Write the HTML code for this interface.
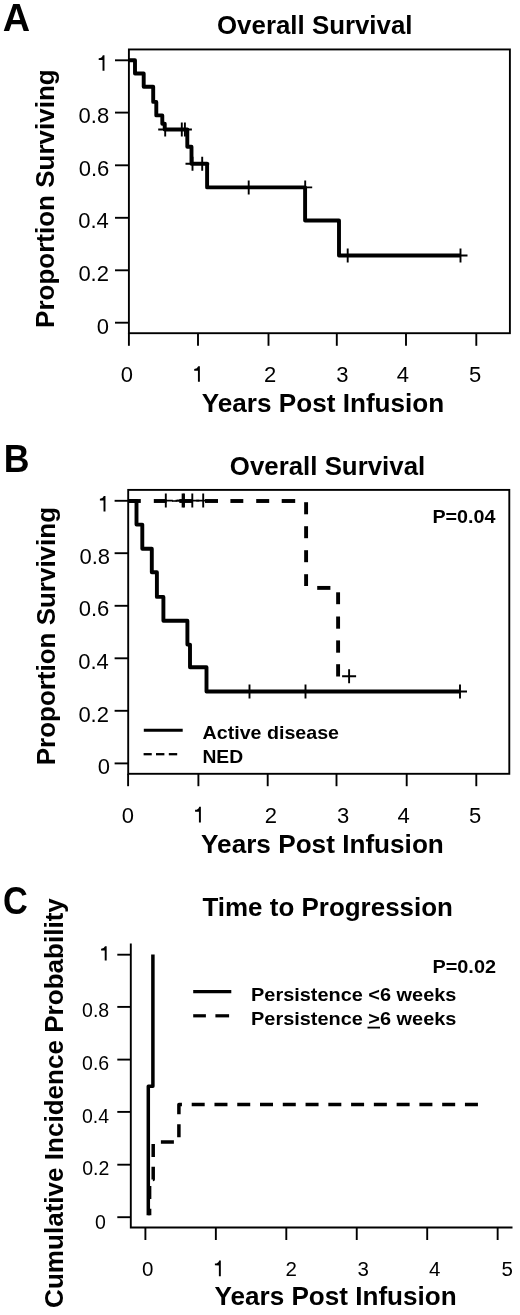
<!DOCTYPE html>
<html><head><meta charset="utf-8"><style>
html,body{margin:0;padding:0;background:#fff;}
svg{display:block;will-change:transform;}
text{font-family:"Liberation Sans",sans-serif;fill:#000;stroke:none;}
</style></head><body>
<svg width="520" height="1315" viewBox="0 0 520 1315" stroke="#000" stroke-linecap="butt" fill="none">
<text x="2.80" y="31.20" font-size="38" font-weight="bold" textLength="27.35" lengthAdjust="spacingAndGlyphs">A</text>
<text x="217.01" y="34.00" font-size="26" font-weight="bold" textLength="195.50" lengthAdjust="spacingAndGlyphs">Overall Survival</text>
<text x="201.80" y="411.60" font-size="26" font-weight="bold" textLength="242.46" lengthAdjust="spacingAndGlyphs">Years Post Infusion</text>
<text x="54.50" y="327.95" font-size="26" font-weight="bold" textLength="258.68" lengthAdjust="spacingAndGlyphs" transform="rotate(-90 54.50 327.95)">Proportion Surviving</text>
<rect x="128.9" y="49.45" width="381" height="283.75" fill="none" stroke-width="1.9"/>
<line x1="115.00" y1="60.30" x2="129.00" y2="60.30" stroke-width="1.9"/>
<path d="M104.47 55.30L104.47 70.80L102.53 70.80L102.53 60.10L98.70 60.05L98.70 58.25Q101.93 58.30 102.83 55.30Z" fill="#000" stroke="none"/>
<line x1="115.00" y1="112.60" x2="129.00" y2="112.60" stroke-width="1.9"/>
<text x="78.55" y="122.70" font-size="22">0.8</text>
<line x1="115.00" y1="165.30" x2="129.00" y2="165.30" stroke-width="1.9"/>
<text x="78.75" y="175.60" font-size="22">0.6</text>
<line x1="115.00" y1="217.80" x2="129.00" y2="217.80" stroke-width="1.9"/>
<text x="78.28" y="228.25" font-size="22">0.4</text>
<line x1="115.00" y1="270.30" x2="129.00" y2="270.30" stroke-width="1.9"/>
<text x="78.38" y="281.00" font-size="22">0.2</text>
<line x1="115.00" y1="322.70" x2="129.00" y2="322.70" stroke-width="1.9"/>
<text x="96.80" y="333.65" font-size="22">0</text>
<line x1="128.90" y1="333.00" x2="128.90" y2="345.80" stroke-width="1.9"/>
<text x="120.80" y="381.90" font-size="22">0</text>
<line x1="198.00" y1="333.00" x2="198.00" y2="345.80" stroke-width="1.9"/>
<path d="M199.88 366.30L199.88 381.70L197.93 381.70L197.93 370.80L194.20 370.75L194.20 368.95Q197.33 369.00 198.23 366.30Z" fill="#000" stroke="none"/>
<line x1="268.50" y1="333.00" x2="268.50" y2="345.80" stroke-width="1.9"/>
<text x="264.07" y="382.02" font-size="22">2</text>
<line x1="336.80" y1="333.00" x2="336.80" y2="345.80" stroke-width="1.9"/>
<text x="336.18" y="381.90" font-size="22">3</text>
<line x1="406.00" y1="333.00" x2="406.00" y2="345.80" stroke-width="1.9"/>
<text x="396.80" y="381.90" font-size="22">4</text>
<line x1="476.30" y1="333.00" x2="476.30" y2="345.80" stroke-width="1.9"/>
<text x="468.98" y="381.77" font-size="22">5</text>
<path d="M129 60.3H135V73.5H143.7V86.7H153.2V101.9H156.3V115.4H162.3V123.8H164.7V129.5H187.3V146.8H191.5V163.8H207.1V187.4H305.1V220.5H339V255.5H460.5" fill="none" stroke-width="3.9" stroke-linejoin="round"/>
<path d="M158.20 129.50H172.20M165.20 122.50V136.50" stroke-width="1.9"/>
<path d="M174.80 129.50H188.80M181.80 122.50V136.50" stroke-width="1.9"/>
<path d="M177.90 129.50H191.90M184.90 122.50V136.50" stroke-width="1.9"/>
<path d="M185.50 163.80H199.50M192.50 156.80V170.80" stroke-width="1.9"/>
<path d="M195.20 163.80H209.20M202.20 156.80V170.80" stroke-width="1.9"/>
<path d="M241.70 187.40H255.70M248.70 180.40V194.40" stroke-width="1.9"/>
<path d="M298.20 187.40H312.20M305.20 180.40V194.40" stroke-width="1.9"/>
<path d="M340.70 255.50H354.70M347.70 248.50V262.50" stroke-width="1.9"/>
<path d="M453.50 255.50H467.50M460.50 248.50V262.50" stroke-width="1.9"/>
<text x="3.86" y="471.70" font-size="38" font-weight="bold" textLength="25.74" lengthAdjust="spacingAndGlyphs">B</text>
<text x="229.81" y="474.80" font-size="26" font-weight="bold" textLength="195.40" lengthAdjust="spacingAndGlyphs">Overall Survival</text>
<text x="201.10" y="852.70" font-size="26" font-weight="bold" textLength="242.76" lengthAdjust="spacingAndGlyphs">Years Post Infusion</text>
<text x="55.20" y="765.25" font-size="26" font-weight="bold" textLength="258.27" lengthAdjust="spacingAndGlyphs" transform="rotate(-90 55.20 765.25)">Proportion Surviving</text>
<rect x="128.2" y="489.9" width="381.1" height="283.9" fill="none" stroke-width="1.9"/>
<line x1="114.60" y1="500.80" x2="128.20" y2="500.80" stroke-width="1.9"/>
<path d="M105.47 496.00L105.47 511.60L103.53 511.60L103.53 500.50L99.90 500.45L99.90 498.65Q102.93 498.70 103.83 496.00Z" fill="#000" stroke="none"/>
<line x1="114.60" y1="553.20" x2="128.20" y2="553.20" stroke-width="1.9"/>
<text x="79.50" y="563.65" font-size="22">0.8</text>
<line x1="114.60" y1="605.80" x2="128.20" y2="605.80" stroke-width="1.9"/>
<text x="78.75" y="616.30" font-size="22">0.6</text>
<line x1="114.60" y1="658.30" x2="128.20" y2="658.30" stroke-width="1.9"/>
<text x="78.28" y="668.95" font-size="22">0.4</text>
<line x1="114.60" y1="710.80" x2="128.20" y2="710.80" stroke-width="1.9"/>
<text x="78.38" y="721.70" font-size="22">0.2</text>
<line x1="114.60" y1="763.40" x2="128.20" y2="763.40" stroke-width="1.9"/>
<text x="97.65" y="774.40" font-size="22">0</text>
<line x1="128.10" y1="773.80" x2="128.10" y2="786.20" stroke-width="1.9"/>
<text x="121.80" y="822.90" font-size="22">0</text>
<line x1="198.40" y1="773.80" x2="198.40" y2="786.20" stroke-width="1.9"/>
<path d="M200.88 806.70L200.88 822.50L198.93 822.50L198.93 811.70L195.10 811.65L195.10 809.85Q198.33 809.90 199.23 806.70Z" fill="#000" stroke="none"/>
<line x1="267.70" y1="773.80" x2="267.70" y2="786.20" stroke-width="1.9"/>
<text x="264.77" y="823.02" font-size="22">2</text>
<line x1="336.50" y1="773.80" x2="336.50" y2="786.20" stroke-width="1.9"/>
<text x="337.07" y="822.90" font-size="22">3</text>
<line x1="406.70" y1="773.80" x2="406.70" y2="786.20" stroke-width="1.9"/>
<text x="397.60" y="822.90" font-size="22">4</text>
<line x1="476.30" y1="773.80" x2="476.30" y2="786.20" stroke-width="1.9"/>
<text x="468.98" y="822.77" font-size="22">5</text>
<path d="M128.5 501H136.5V524.6H142.3V548.7H151.8V572.3H156.9V596.9H163.4V620.8H187.4V644.6H190V667.2H206.5V691.5H460" fill="none" stroke-width="3.9" stroke-linejoin="round"/>
<line x1="128.00" y1="501.00" x2="140.80" y2="501.00" stroke-width="3.9"/>
<line x1="153.80" y1="501.00" x2="166.50" y2="501.00" stroke-width="3.9"/>
<line x1="179.30" y1="501.00" x2="192.50" y2="501.00" stroke-width="3.9"/>
<line x1="205.00" y1="501.00" x2="218.00" y2="501.00" stroke-width="3.9"/>
<line x1="230.40" y1="501.00" x2="243.30" y2="501.00" stroke-width="3.9"/>
<line x1="256.20" y1="501.00" x2="269.20" y2="501.00" stroke-width="3.9"/>
<line x1="281.70" y1="501.00" x2="295.20" y2="501.00" stroke-width="3.9"/>
<line x1="306.10" y1="502.20" x2="306.10" y2="514.30" stroke-width="3.9"/>
<line x1="306.10" y1="526.20" x2="306.10" y2="538.20" stroke-width="3.9"/>
<line x1="306.10" y1="550.20" x2="306.10" y2="562.20" stroke-width="3.9"/>
<line x1="306.10" y1="574.20" x2="306.10" y2="586.00" stroke-width="3.9"/>
<line x1="317.20" y1="587.90" x2="330.40" y2="587.90" stroke-width="3.9"/>
<line x1="338.10" y1="592.30" x2="338.10" y2="604.20" stroke-width="3.9"/>
<line x1="338.10" y1="616.50" x2="338.10" y2="628.70" stroke-width="3.9"/>
<line x1="338.10" y1="640.40" x2="338.10" y2="652.70" stroke-width="3.9"/>
<line x1="338.10" y1="664.20" x2="338.10" y2="676.50" stroke-width="3.9"/>
<path d="M158.80 500.60H172.80M165.80 493.60V507.60" stroke-width="1.9"/>
<path d="M175.60 500.60H189.60M182.60 493.60V507.60" stroke-width="1.9"/>
<path d="M177.00 500.60H191.00M184.00 493.60V507.60" stroke-width="1.9"/>
<path d="M185.30 500.60H199.30M192.30 493.60V507.60" stroke-width="1.9"/>
<path d="M196.20 500.60H210.20M203.20 493.60V507.60" stroke-width="1.9"/>
<path d="M342.10 676.20H356.10M349.10 669.20V683.20" stroke-width="1.9"/>
<path d="M242.50 691.50H256.50M249.50 684.50V698.50" stroke-width="1.9"/>
<path d="M298.50 691.50H312.50M305.50 684.50V698.50" stroke-width="1.9"/>
<path d="M453.00 691.50H467.00M460.00 684.50V698.50" stroke-width="1.9"/>
<text x="432.47" y="522.80" font-size="18.5" font-weight="bold" textLength="63.00" lengthAdjust="spacingAndGlyphs">P=0.04</text>
<line x1="172.00" y1="501.00" x2="177.00" y2="501.00" stroke-width="1.6"/>
<line x1="143.80" y1="730.20" x2="182.70" y2="730.20" stroke-width="2.9"/>
<line x1="143.60" y1="754.20" x2="151.75" y2="754.20" stroke-width="2.3"/>
<line x1="156.00" y1="754.20" x2="164.40" y2="754.20" stroke-width="2.3"/>
<line x1="168.80" y1="754.20" x2="177.20" y2="754.20" stroke-width="2.3"/>
<text x="202.57" y="738.75" font-size="18.5" font-weight="bold" textLength="136.43" lengthAdjust="spacingAndGlyphs">Active disease</text>
<text x="202.40" y="762.80" font-size="18.5" font-weight="bold" textLength="40.75" lengthAdjust="spacingAndGlyphs">NED</text>
<text x="3.04" y="914.00" font-size="38" font-weight="bold" textLength="24.85" lengthAdjust="spacingAndGlyphs">C</text>
<text x="202.45" y="916.00" font-size="26" font-weight="bold" textLength="250.52" lengthAdjust="spacingAndGlyphs">Time to Progression</text>
<text x="214.50" y="1304.80" font-size="26" font-weight="bold" textLength="242.15" lengthAdjust="spacingAndGlyphs">Years Post Infusion</text>
<text x="63.50" y="1307.90" font-size="26" font-weight="bold" textLength="409.74" lengthAdjust="spacingAndGlyphs" transform="rotate(-90 63.50 1307.90)">Cumulative Incidence Probability</text>
<path d="M130.8 943.4V1227.5H512.5" fill="none" stroke-width="1.9"/>
<line x1="117.30" y1="954.70" x2="130.80" y2="954.70" stroke-width="1.9"/>
<path d="M106.67 946.20L106.67 960.50L104.73 960.50L104.73 950.50L101.10 950.45L101.10 948.65Q104.13 948.70 105.03 946.20Z" fill="#000" stroke="none"/>
<line x1="117.30" y1="1006.90" x2="130.80" y2="1006.90" stroke-width="1.9"/>
<text x="82.05" y="1016.73" font-size="19.5">0.8</text>
<line x1="117.30" y1="1059.60" x2="130.80" y2="1059.60" stroke-width="1.9"/>
<text x="82.10" y="1069.62" font-size="19.5">0.6</text>
<line x1="117.30" y1="1111.90" x2="130.80" y2="1111.90" stroke-width="1.9"/>
<text x="81.97" y="1122.53" font-size="19.5">0.4</text>
<line x1="117.30" y1="1164.70" x2="130.80" y2="1164.70" stroke-width="1.9"/>
<text x="82.22" y="1174.62" font-size="19.5">0.2</text>
<line x1="117.30" y1="1217.20" x2="130.80" y2="1217.20" stroke-width="1.9"/>
<text x="94.92" y="1229.38" font-size="19.5">0</text>
<line x1="145.40" y1="1227.50" x2="145.40" y2="1240.00" stroke-width="1.9"/>
<text x="141.88" y="1276.10" font-size="20.5">0</text>
<line x1="215.85" y1="1227.50" x2="215.85" y2="1240.00" stroke-width="1.9"/>
<path d="M220.82 1260.40L220.82 1276.20L218.88 1276.20L218.88 1265.40L214.90 1265.35L214.90 1263.55Q218.28 1263.60 219.18 1260.40Z" fill="#000" stroke="none"/>
<line x1="286.30" y1="1227.50" x2="286.30" y2="1240.00" stroke-width="1.9"/>
<text x="285.38" y="1276.22" font-size="20.5">2</text>
<line x1="356.75" y1="1227.50" x2="356.75" y2="1240.00" stroke-width="1.9"/>
<text x="357.57" y="1276.10" font-size="20.5">3</text>
<line x1="427.20" y1="1227.50" x2="427.20" y2="1240.00" stroke-width="1.9"/>
<text x="429.07" y="1276.10" font-size="20.5">4</text>
<line x1="497.65" y1="1227.50" x2="497.65" y2="1240.00" stroke-width="1.9"/>
<text x="501.45" y="1275.97" font-size="20.5">5</text>
<path d="M148.3 1215.3V1086.3H152.9V954.6" fill="none" stroke-width="3.5" stroke-linejoin="round"/>
<path d="M149.6 1215.3V1179.4H153.2V1141.9H178.9V1104.4H479" fill="none" stroke-width="3.5" stroke-linejoin="round" stroke-dasharray="13 9.77" stroke-dashoffset="6.39"/>
<text x="432.46" y="972.50" font-size="18.5" font-weight="bold" textLength="63.55" lengthAdjust="spacingAndGlyphs">P=0.02</text>
<line x1="193.20" y1="991.70" x2="231.30" y2="991.70" stroke-width="3.2"/>
<line x1="193.20" y1="1015.80" x2="205.90" y2="1015.80" stroke-width="3.2"/>
<line x1="215.40" y1="1015.80" x2="229.10" y2="1015.80" stroke-width="3.2"/>
<text x="251.05" y="1000.70" font-size="18.5" font-weight="bold" textLength="205.30" lengthAdjust="spacingAndGlyphs">Persistence &lt;6 weeks</text>
<text x="251.05" y="1024.70" font-size="18.5" font-weight="bold" textLength="205.30" lengthAdjust="spacingAndGlyphs">Persistence &gt;6 weeks</text>
<line x1="367.50" y1="1027.60" x2="380.00" y2="1027.60" stroke-width="1.8"/>
</svg>
</body></html>
